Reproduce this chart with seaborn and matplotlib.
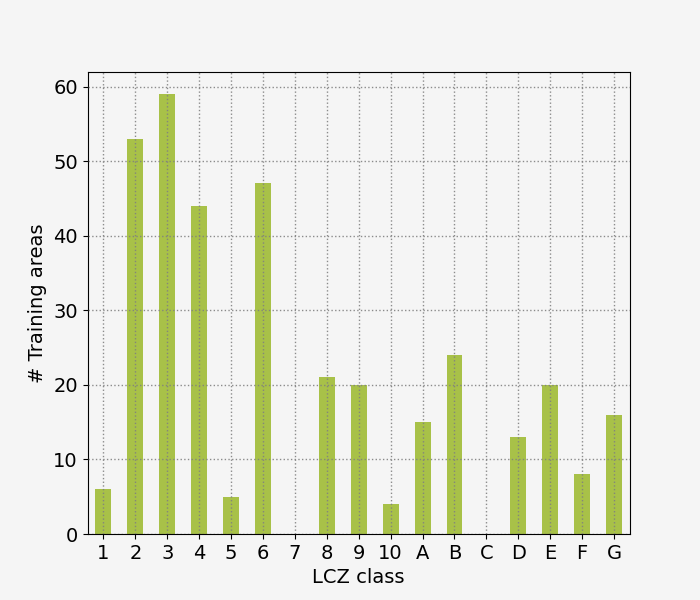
import pandas as pd
import matplotlib
matplotlib.use("Agg")
import matplotlib.pyplot as plt
import seaborn as sns

lcz_classes = ["1", "2", "3", "4", "5", "6", "7", "8", "9", "10",
               "A", "B", "C", "D", "E", "F", "G"]
n_areas = [6, 53, 59, 44, 5, 47, 0, 21, 20, 4, 15, 24, 0, 13, 20, 8, 16]

df = pd.DataFrame({"LCZ class": lcz_classes, "# Training areas": n_areas})

plt.rcParams["font.size"] = 14
fig, ax = plt.subplots(figsize=(7, 6), dpi=100)
fig.patch.set_facecolor("#f5f5f5")
ax.set_facecolor("#f5f5f5")

sns.barplot(data=df, x="LCZ class", y="# Training areas", color="#a8c148",
            saturation=1, width=0.5, ax=ax)

ax.set_axisbelow(False)
ax.grid(True, color="gray", linestyle=":", linewidth=1, alpha=0.9)
ax.set_xlim(-0.5, len(lcz_classes) - 0.5)
ax.set_ylim(0, max(n_areas) * 1.05)
ax.set_yticks([0, 10, 20, 30, 40, 50, 60])
ax.tick_params(labelsize=14)
ax.set_xlabel("LCZ class", fontsize=14)
ax.set_ylabel("# Training areas", fontsize=14)

fig.savefig("out.png", dpi=100, facecolor=fig.get_facecolor())
